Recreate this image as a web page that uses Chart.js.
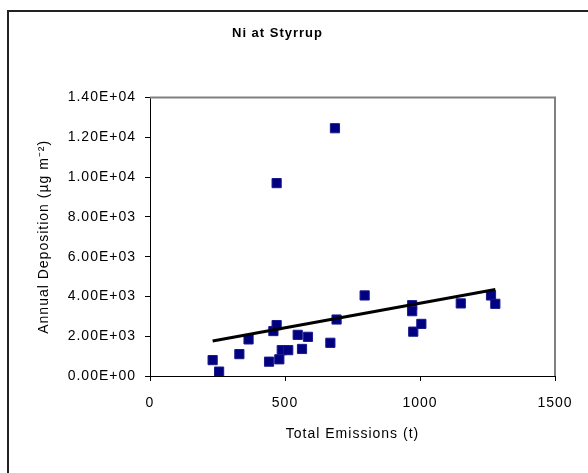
<!DOCTYPE html>
<html>
<head>
<meta charset="utf-8">
<script src="https://cdn.jsdelivr.net/npm/chart.js@4.4.1/dist/chart.umd.min.js"></script>
<style>
  html, body { margin: 0; padding: 0; background: #fff; overflow: hidden; }
  #frame { position: absolute; left: 7px; top: 10px; width: 700px; height: 600px;
           border-left: 2px solid #222; border-top: 2px solid #222; }
  #wrap { position: absolute; left: 0; top: 0; width: 600px; height: 473px; }
</style>
</head>
<body>
<div id="frame"></div>
<div id="wrap"><canvas id="chart" width="600" height="473"></canvas></div>
<script>
// Ni at Styrrup - deposition vs emissions
var emissions  = [232, 256, 331, 365, 441, 457, 469, 469, 479, 488, 512, 547, 563, 585, 668, 685, 691, 795, 971, 971, 975, 1005, 1151, 1263, 1279]
var deposition = [800, 220, 1100, 1840, 720, 2260, 2560, 9700, 840, 1300, 1300, 2070, 1360, 1970, 1670, 12460, 2840, 4050, 3560, 3260, 2230, 2620, 3650, 4050, 3630]

// linear trend line ends
var trendX = [232, 1279]
var trendY = [1760, 4350]

var xTicks = [0, 500, 1000, 1500]
var yTicks = [0, 2000, 4000, 6000, 8000, 10000, 12000, 14000]

var font = "'Liberation Sans', Arial, sans-serif"

function sciLabel(v) {
    var parts = Number(v).toExponential(2).split('e')
    var e = parseInt(parts[1])
    return parts[0] + 'E' + (e < 0 ? '-' : '+') + String(Math.abs(e)).padStart(2, '0')
}

var points = emissions.map(function(x, i) { return {x: x, y: deposition[i]} })
var trend = trendX.map(function(x, i) { return {x: x, y: trendY[i]} })

// grey plot-area border on top and right, like Excel
var plotBorder = {
    id: 'plotBorder',
    beforeDraw: function(chart) {
        chart.ctx.letterSpacing = '1px'
    },
    afterDatasetsDraw: function(chart) {
        var a = chart.chartArea, ctx = chart.ctx
        ctx.save()
        ctx.strokeStyle = '#808080'
        ctx.lineWidth = 2
        ctx.beginPath()
        ctx.moveTo(a.left, a.top)
        ctx.lineTo(a.right, a.top)
        ctx.lineTo(a.right, a.bottom)
        ctx.stroke()
        ctx.restore()
    }
}

Chart.defaults.font.family = font
Chart.defaults.color = '#000'

new Chart(document.getElementById('chart'), {
    type: 'scatter',
    data: {
        datasets: [
            {
                type: 'line',
                data: trend,
                borderColor: '#000',
                borderWidth: 3,
                pointRadius: 0,
                fill: false,
                order: 0
            },
            {
                data: points,
                pointStyle: 'rect',
                pointRadius: 6.5,
                backgroundColor: '#000080',
                borderColor: '#1a1a8c',
                borderWidth: 1,
                order: 1
            }
        ]
    },
    options: {
        responsive: false,
        devicePixelRatio: 1,
        animation: false,
        layout: { padding: { left: 0, right: 45, top: 0, bottom: 0 } },
        plugins: {
            legend: { display: false },
            tooltip: { enabled: false },
            title: {
                display: true,
                text: 'Ni at Styrrup',
                font: { size: 13, weight: 'bold' },
                padding: { top: 26, bottom: 56 }
            }
        },
        scales: {
            x: {
                type: 'linear',
                min: 0, max: 1500,
                afterBuildTicks: function(s) { s.ticks = xTicks.map(function(v) { return {value: v} }) },
                afterFit: function(s) { s.height = 97 },
                ticks: { font: { size: 14 }, padding: 14, callback: function(v) { return String(v) } },
                grid: { drawOnChartArea: false, tickLength: 5, color: '#000' },
                border: { color: '#000', width: 1 },
                title: { display: true, text: 'Total Emissions (t)', font: { size: 14 }, padding: { bottom: 30 } }
            },
            y: {
                type: 'linear',
                min: 0, max: 14000,
                afterBuildTicks: function(s) { s.ticks = yTicks.map(function(v) { return {value: v} }) },
                afterFit: function(s) { s.width = 150 },
                ticks: { font: { size: 14 }, padding: 9, callback: sciLabel },
                grid: { drawOnChartArea: false, tickLength: 5, color: '#000' },
                border: { color: '#000', width: 1 },
                title: { display: true, text: 'Annual Deposition (µg m⁻²)', font: { size: 14 }, padding: { top: 36 } }
            }
        }
    },
    plugins: [plotBorder]
})
</script>
</body>
</html>
